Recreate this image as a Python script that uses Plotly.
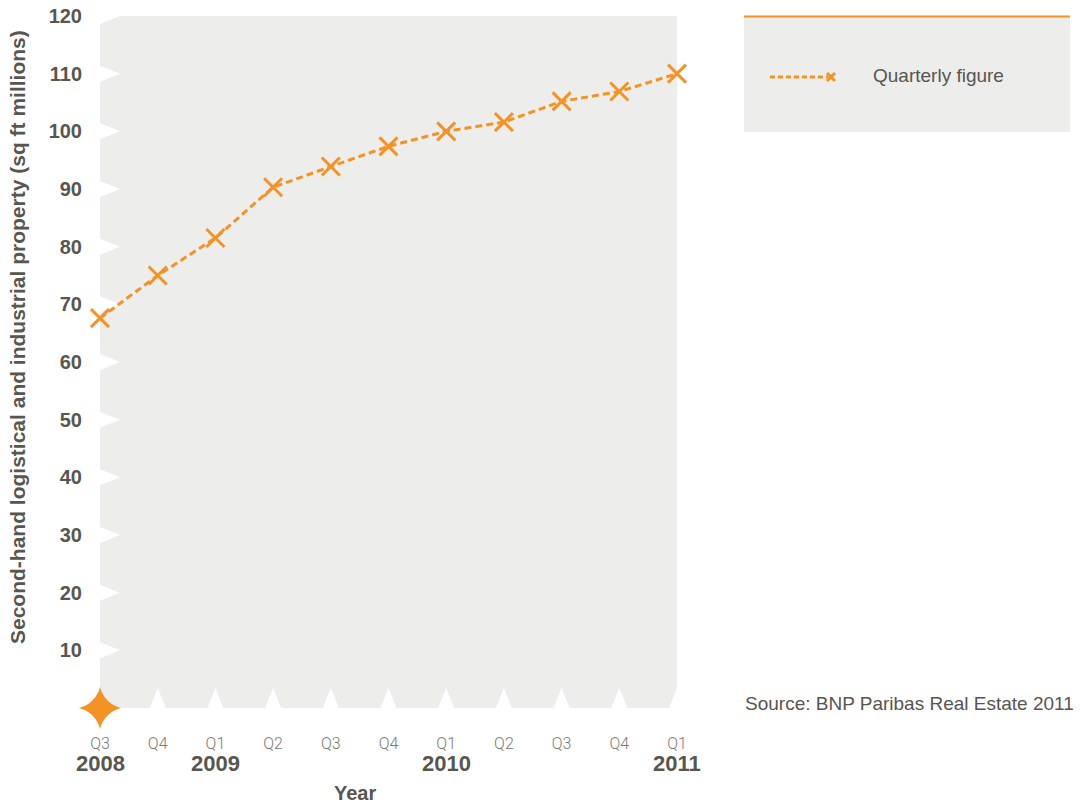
import plotly.graph_objects as go

# Quarterly stock of second-hand logistical and industrial property (sq ft millions)
quarters = ["Q3", "Q4", "Q1", "Q2", "Q3", "Q4", "Q1", "Q2", "Q3", "Q4", "Q1"]
years = ["2008", "", "2009", "", "", "", "2010", "", "", "", "2011"]
values = [67.6, 75.0, 81.5, 90.3, 93.9, 97.4, 100.0, 101.6, 105.2, 106.9, 110.0]
y_ticks = [10, 20, 30, 40, 50, 60, 70, 80, 90, 100, 110, 120]

ORANGE = "#F39325"
PANEL = "#EDEDEB"
TEXT = "#57564F"
SANS = "Liberation Sans, Arial, Helvetica, sans-serif"
NARROW = "Roboto, Liberation Sans Narrow, sans-serif"

W, H = 1088, 806
L, R, T, B = 100, 411, 16, 98
plot_w, plot_h = W - L - R, H - T - B

xs = list(range(len(values)))
x_max = len(values) - 1
y_max = 120

# pixel -> data unit helpers for the notched panel
ux = x_max / plot_w
uy = y_max / plot_h


def px(p):
    return (p - L) / plot_w


def py(p):
    return (H - B - p) / plot_h


# grey panel with white notches at every tick
nx_in, ny_half = 20 * ux, 8 * uy      # left-edge notches
bx_half, by_in = 8 * ux, 20 * uy      # bottom-edge notches
pts = [(0, 0)]
for yv in y_ticks[:-1]:
    pts += [(0, yv - ny_half), (nx_in, yv), (0, yv + ny_half)]
pts += [(0, y_max - ny_half), (nx_in, y_max), (x_max, y_max), (x_max, by_in), (x_max - bx_half, 0)]
for xv in range(x_max - 1, 0, -1):
    pts += [(xv + bx_half, 0), (xv, by_in), (xv - bx_half, 0)]
path = "M " + " L ".join(f"{a:.5f},{b:.5f}" for a, b in pts) + " Z"

fig = go.Figure()

fig.add_trace(go.Scatter(
    x=xs, y=values, mode="lines+markers", name="Quarterly figure",
    line=dict(color=ORANGE, width=3, dash="7px,4px"),
    marker=dict(symbol="x-thin", size=18, line=dict(color=ORANGE, width=3), color=ORANGE),
    cliponaxis=False, showlegend=False,
))

# origin star
fig.add_trace(go.Scatter(
    x=[0], y=[0], mode="markers",
    marker=dict(symbol="star-diamond", size=30, color=ORANGE, line=dict(width=0)),
    cliponaxis=False, showlegend=False, hoverinfo="skip",
))

shapes = [dict(type="path", path=path, xref="x", yref="y", fillcolor=PANEL,
               line=dict(width=0), layer="below")]

# legend box
shapes.append(dict(type="rect", xref="paper", yref="paper", x0=px(744), x1=px(1070),
                   y0=py(132), y1=py(16), fillcolor=PANEL, line=dict(width=0), layer="below"))
shapes.append(dict(type="line", xref="paper", yref="paper", x0=px(744), x1=px(1070),
                   y0=py(16.5), y1=py(16.5), line=dict(color=ORANGE, width=2)))
shapes.append(dict(type="line", xref="paper", yref="paper", x0=px(770), x1=px(828),
                   y0=py(77), y1=py(77), line=dict(color=ORANGE, width=3, dash="5px,3px")))
for dx0, dy0, dx1, dy1 in [(-4, -4, 4, 4), (-4, 4, 4, -4)]:
    shapes.append(dict(type="line", xref="paper", yref="paper",
                       x0=px(831 + dx0), x1=px(831 + dx1), y0=py(77 + dy0), y1=py(77 + dy1),
                       line=dict(color=ORANGE, width=3)))

annotations = [
    dict(text="Quarterly figure", xref="paper", yref="paper", x=px(871), y=py(75),
         xanchor="left", yanchor="middle", showarrow=False,
         font=dict(family=SANS, size=19, color=TEXT)),
    dict(text="Source: BNP Paribas Real Estate 2011", xref="paper", yref="paper",
         x=px(743), y=py(703), xanchor="left", yanchor="middle", showarrow=False,
         font=dict(family=SANS, size=19, color=TEXT)),
    dict(text="<b>Year</b>", xref="paper", yref="paper", x=px(355), y=py(793),
         xanchor="center", yanchor="middle", showarrow=False,
         font=dict(family=SANS, size=20, color=TEXT)),
    dict(text="<b>Second-hand logistical and industrial property (sq ft millions)</b>",
         xref="paper", yref="paper", x=px(18), y=py(337), textangle=-90,
         xanchor="center", yanchor="middle", showarrow=False,
         font=dict(family=SANS, size=21, color=TEXT)),
]
for xv, yr in zip(xs, years):
    if yr:
        annotations.append(dict(text=f"<b>{yr}</b>", x=xv, xref="x", yref="paper", y=py(763),
                                xanchor="center", yanchor="middle", showarrow=False,
                                font=dict(family=SANS, size=22, color=TEXT)))

fig.update_layout(
    width=W, height=H,
    margin=dict(l=L, r=R, t=T, b=B, pad=0, autoexpand=False),
    plot_bgcolor="white", paper_bgcolor="white",
    shapes=shapes, annotations=annotations, showlegend=False,
    xaxis=dict(range=[0, x_max], tickvals=xs, ticktext=quarters, showgrid=False,
               zeroline=False, showline=False, ticks="", ticklabelstandoff=24,
               automargin=False,
               tickfont=dict(family=NARROW, size=16, color="#7A7A74", weight=300)),
    yaxis=dict(range=[0, y_max], tickvals=y_ticks, showgrid=False, zeroline=False,
               showline=False, ticks="", ticklabelstandoff=17, automargin=False,
               tickfont=dict(family=SANS, size=20, color=TEXT, weight="bold")),
)

fig.write_html("out.html")
